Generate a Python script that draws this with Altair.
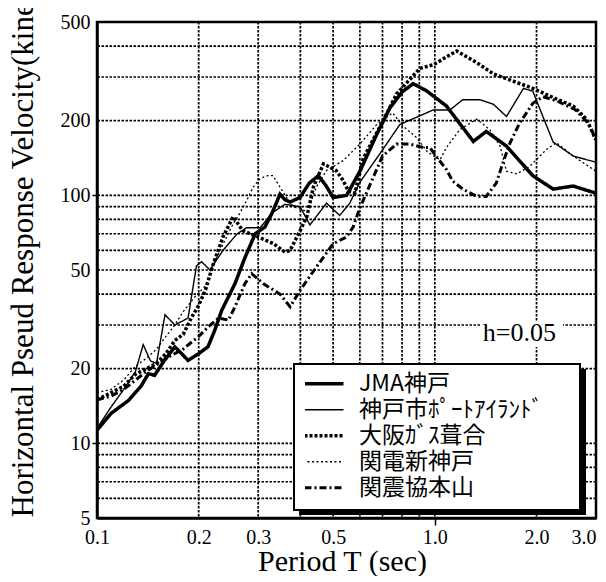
import altair as alt
import pandas as pd

# ---------------- data ----------------
SERIES = ["JMA神戸", "神戸市ﾎﾟｰﾄｱｲﾗﾝﾄﾞ", "大阪ｶﾞｽ葺合", "関電新神戸", "関震協本山"]

JMA_X = [0.1, 0.11, 0.124, 0.135, 0.142, 0.148, 0.158, 0.17, 0.178, 0.186, 0.2, 0.213, 0.223, 0.234, 0.256,
         0.274, 0.294, 0.314, 0.33, 0.348, 0.36, 0.373, 0.399, 0.425, 0.452, 0.475, 0.5, 0.548, 0.6, 0.673,
         0.736, 0.8, 0.863, 0.945, 1.083, 1.3, 1.42, 1.63, 1.95, 2.24, 2.57, 3.0]
JMA_Y = [11.3, 13.2, 14.9, 17.0, 19.1, 18.8, 21.5, 24.5, 23.0, 21.6, 23.0, 24.5, 28.5, 34.4, 44.0,
         56.0, 70.0, 74.5, 85.0, 101.0, 96.0, 94.0, 98.0, 112.0, 120.0, 110.0, 98.0, 100.0, 125.0, 176.0,
         225.0, 261.0, 282.0, 264.0, 229.0, 165.0, 181.0, 158.0, 120.0, 106.0, 109.0, 102.0]

PI_X = [0.1, 0.11, 0.12, 0.13, 0.137, 0.144, 0.15, 0.159, 0.17, 0.186, 0.197, 0.204, 0.216, 0.236, 0.26,
        0.277, 0.304, 0.33, 0.36, 0.399, 0.427, 0.478, 0.523, 0.56, 0.6, 0.68, 0.788, 0.989, 1.108, 1.21,
        1.36, 1.49, 1.63, 1.83, 1.95, 2.24, 2.57, 3.0]
PI_Y = [11.5, 14.0, 16.5, 19.5, 25.0, 21.5, 21.0, 33.0, 30.0, 32.0, 52.0, 54.0, 50.0, 60.0, 70.0,
        74.0, 74.0, 85.0, 92.0, 90.0, 76.0, 93.0, 83.0, 93.0, 113.0, 144.0, 193.0, 221.0, 221.0, 243.0,
        243.0, 233.0, 208.0, 270.0, 263.0, 164.0, 144.0, 136.0]

OSAKA_X = [0.1, 0.11, 0.12, 0.13, 0.14, 0.15, 0.16, 0.17, 0.18, 0.19, 0.2, 0.21, 0.22, 0.236, 0.253,
           0.27, 0.3, 0.332, 0.36, 0.373, 0.399, 0.418, 0.437, 0.468, 0.51, 0.535, 0.555, 0.58, 0.614, 0.703,
           0.77, 0.903, 0.989, 1.16, 1.33, 1.49, 1.95, 2.24, 2.57, 2.81, 3.0]
OSAKA_Y = [15.0, 16.0, 17.0, 19.0, 20.0, 21.0, 23.0, 26.0, 27.5, 32.0, 36.0, 42.0, 52.0, 68.0, 82.0,
           72.0, 68.0, 64.0, 59.0, 60.0, 72.0, 82.0, 108.0, 134.0, 126.0, 115.0, 104.0, 102.0, 141.0, 200.0,
           256.0, 325.0, 336.0, 382.0, 343.0, 309.0, 270.0, 248.0, 229.0, 203.0, 167.0]

KANDEN_X = [0.1, 0.11, 0.12, 0.13, 0.14, 0.15, 0.16, 0.17, 0.18, 0.195, 0.209, 0.22, 0.234, 0.25, 0.265,
            0.277, 0.29, 0.304, 0.32, 0.332, 0.345, 0.364, 0.381, 0.42, 0.446, 0.478, 0.535, 0.6, 0.673, 0.75,
            0.806, 0.883, 0.95, 1.035, 1.083, 1.185, 1.33, 1.455, 1.56, 1.63, 1.75, 1.91, 2.14, 2.29, 2.57, 3.0]
KANDEN_Y = [16.0, 16.5, 18.0, 20.5, 22.0, 24.0, 27.0, 30.0, 34.0, 39.0, 43.0, 52.0, 62.0, 74.5, 85.0,
            95.0, 108.0, 117.0, 120.0, 120.0, 110.0, 98.0, 90.0, 86.0, 108.0, 126.0, 138.0, 161.0, 193.0, 215.0,
            190.0, 171.0, 150.0, 139.0, 156.0, 184.0, 203.0, 184.0, 158.0, 125.0, 122.0, 131.0, 153.0, 163.0, 144.0, 125.0]

SHINKYO_X = [0.1, 0.11, 0.12, 0.14, 0.16, 0.18, 0.2, 0.213, 0.229, 0.245, 0.256, 0.274, 0.287, 0.311, 0.348,
             0.373, 0.399, 0.446, 0.5, 0.548, 0.573, 0.6, 0.657, 0.7, 0.77, 0.844, 0.923, 0.966, 1.012, 1.083,
             1.13, 1.21, 1.33, 1.42, 1.52, 1.59, 1.67, 1.78, 1.95, 2.09, 2.3, 2.6, 2.85, 3.0]
SHINKYO_Y = [15.0, 15.5, 16.5, 19.5, 22.0, 24.0, 27.0, 29.4, 32.0, 31.4, 35.5, 44.0, 48.3, 44.0, 40.0,
             35.5, 41.4, 51.4, 63.8, 68.0, 74.5, 89.0, 118.0, 144.0, 161.0, 161.0, 156.0, 156.0, 143.0, 127.0,
             114.0, 106.0, 99.0, 99.0, 112.0, 135.0, 163.0, 195.0, 235.0, 250.0, 240.0, 222.0, 195.0, 168.0]

X_TICKS = [0.1, 0.2, 0.3, 0.5, 1.0, 2.0, 3.0]
Y_TICKS = [5, 10, 20, 50, 100, 200, 500]
GRID_X = [0.2, 0.3, 0.4, 0.5, 0.6, 0.7, 0.8, 0.9, 1.0, 2.0]
GRID_Y = [6, 7, 8, 9, 10, 20, 30, 40, 50, 60, 70, 80, 90, 100, 200, 300, 400]
ANNOT_TEXT = ["h=0.05"]
ANNOT_X = [1.78]
ANNOT_Y = [27.8]

# ---------------- build ----------------
rows = []
for k, (name, xs, ys) in enumerate(zip(SERIES,
                                       [JMA_X, PI_X, OSAKA_X, KANDEN_X, SHINKYO_X],
                                       [JMA_Y, PI_Y, OSAKA_Y, KANDEN_Y, SHINKYO_Y])):
    for i, (a, b) in enumerate(zip(xs, ys)):
        rows.append({"series": name, "k": k, "period": a, "vel": b, "i": i})
df = pd.DataFrame(rows)

SERIF = "Liberation Serif"
JP = "Noto Sans CJK JP"

xscale = alt.Scale(type="log", domain=[0.1, 3.0], nice=False)
yscale = alt.Scale(type="log", domain=[5, 500], nice=False)

DASHES = [[1, 0], [1, 0], [3, 2], [2, 2.5], [7, 3, 2, 3]]
WIDTHS = [3.5, 1.4, 3.5, 1.3, 3.0]

width_expr = " : ".join(
    f"datum.value == '{s}' ? {w}" for s, w in zip(SERIES, WIDTHS)
) + " : 1.5"

legend = alt.Legend(
    orient="none", legendX=208, legendY=349, title=None,
    symbolType="stroke", symbolSize=2916, symbolStrokeColor="black", symbolOffset=0,
    symbolStrokeWidth={"expr": width_expr},
    clipHeight=25.5, rowPadding=0, padding=0,
    labelFont=JP, labelFontSize=23, labelColor="black", labelOffset=31, labelLimit=300,
)

xaxis = alt.Axis(
    values=X_TICKS, format=".1f", labelFont=SERIF, labelFontSize=20, labelColor="black",
    labelPadding=2, labelFlush=False, labelOverlap=False,
    labelAlign={"condition": {"test": "datum.value >= 3", "value": "right"}, "value": "center"},
    tickSize=7, tickColor="black", tickWidth=1.5,
    tickOpacity={"condition": {"test": "datum.value == 1", "value": 1}, "value": 0},
    domainColor="black", domainWidth=2.5, grid=False,
    title="Period T (sec)", titleFont=SERIF, titleFontSize=30, titleFontWeight="normal",
    titleColor="black", titleBaseline="alphabetic", titleAlign="center", titleX=245, titleY=52,
)
yaxis = alt.Axis(
    values=Y_TICKS, format="d", labelFont=SERIF, labelFontSize=20, labelColor="black",
    labelPadding=2, labelOverlap=False, labelFlush=False,
    tickSize=5, tickColor="black", tickWidth=1.5,
    tickOpacity={"condition": {"test": "datum.value == 10 || datum.value == 100", "value": 1}, "value": 0},
    domainColor="black", domainWidth=2.5, grid=False,
    title="Horizontal Pseud Response Velocity(kine)", titleFont=SERIF, titleFontSize=31,
    titleFontWeight="normal", titleColor="black", titleAngle=270, titleAlign="left",
    titleBaseline="alphabetic", titleX=-65, titleY=495,
)

GRID_STYLE = dict(color="black", strokeDash=[2.5, 1.5], strokeWidth=1.7)

grid_h = alt.Chart(pd.DataFrame({"v": GRID_Y})).mark_rule(**GRID_STYLE).encode(
    y=alt.Y("v:Q", scale=yscale, axis=yaxis))

grid_v = alt.Chart(pd.DataFrame({"v": GRID_X})).mark_rule(**GRID_STYLE).encode(
    x=alt.X("v:Q", scale=xscale, axis=xaxis))

lines = alt.Chart(df).mark_line(clip=True).encode(
    x=alt.X("period:Q", scale=xscale, axis=xaxis),
    y=alt.Y("vel:Q", scale=yscale, axis=yaxis),
    strokeDash=alt.StrokeDash("series:N", scale=alt.Scale(domain=SERIES, range=DASHES), legend=legend),
    strokeWidth=alt.StrokeWidth(
        "k:Q",
        scale=alt.Scale(type="threshold", domain=[0.5, 1.5, 2.5, 3.5], range=WIDTHS),
        legend=None,
    ),
    order=alt.Order("i:Q"),
    color=alt.value("black"),
)

one = pd.DataFrame({"k": [0]})
shadow = alt.Chart(one).mark_rect(color="black").encode(
    x=alt.value(202), x2=alt.value(489), y=alt.value(347), y2=alt.value(493))
box = alt.Chart(one).mark_rect(fill="white", stroke="black", strokeWidth=2).encode(
    x=alt.value(197), x2=alt.value(483), y=alt.value(342), y2=alt.value(488))
text_bg = alt.Chart(one).mark_rect(fill="white").encode(
    x=alt.value(384), x2=alt.value(466), y=alt.value(299), y2=alt.value(325))

annot = alt.Chart(pd.DataFrame({"t": ANNOT_TEXT, "x": ANNOT_X, "y": ANNOT_Y})).mark_text(
    font=SERIF, fontSize=26, color="black", align="center", baseline="middle"
).encode(
    x=alt.X("x:Q", scale=xscale, axis=xaxis),
    y=alt.Y("y:Q", scale=yscale, axis=yaxis),
    text="t:N",
)

chart = alt.layer(grid_h, grid_v, lines, shadow, box, text_bg, annot).properties(
    width=499, height=496,
    autosize=alt.AutoSizeParams(type="none"),
    padding={"left": 89, "top": 14, "right": 2, "bottom": 58},
    background="white",
).configure_view(stroke="black", strokeWidth=2.5)

chart.save("out.html", embed_options={"renderer": "svg", "actions": False})
